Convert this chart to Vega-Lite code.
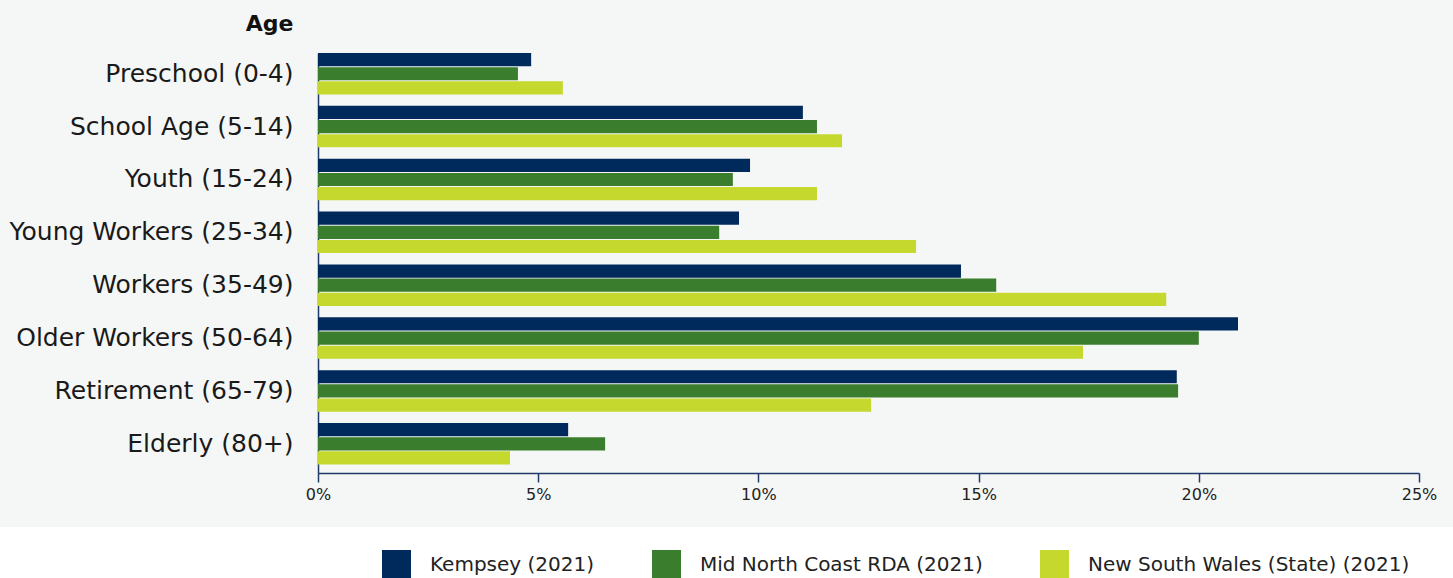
{
  "$schema": "https://vega.github.io/schema/vega-lite/v6.json",
  "background": "#f5f7f6",
  "padding": {"left": 0, "top": 12, "right": 0, "bottom": 0},
  "spacing": 25,
  "bounds": "full",
  "config": {"font": "DejaVu Sans", "view": {"stroke": null}},
  "resolve": {"scale": {"color": "independent"}, "legend": {"color": "independent"}},
  "datasets": {
    "age": [
      {"age": "Preschool (0-4)", "region": "Kempsey (2021)", "pct": 4.84},
      {"age": "Preschool (0-4)", "region": "Mid North Coast RDA (2021)", "pct": 4.54},
      {"age": "Preschool (0-4)", "region": "New South Wales (State) (2021)", "pct": 5.56},
      {"age": "School Age (5-14)", "region": "Kempsey (2021)", "pct": 11.01},
      {"age": "School Age (5-14)", "region": "Mid North Coast RDA (2021)", "pct": 11.33},
      {"age": "School Age (5-14)", "region": "New South Wales (State) (2021)", "pct": 11.9},
      {"age": "Youth (15-24)", "region": "Kempsey (2021)", "pct": 9.81},
      {"age": "Youth (15-24)", "region": "Mid North Coast RDA (2021)", "pct": 9.42},
      {"age": "Youth (15-24)", "region": "New South Wales (State) (2021)", "pct": 11.33},
      {"age": "Young Workers (25-34)", "region": "Kempsey (2021)", "pct": 9.56},
      {"age": "Young Workers (25-34)", "region": "Mid North Coast RDA (2021)", "pct": 9.11},
      {"age": "Young Workers (25-34)", "region": "New South Wales (State) (2021)", "pct": 13.58},
      {"age": "Workers (35-49)", "region": "Kempsey (2021)", "pct": 14.6},
      {"age": "Workers (35-49)", "region": "Mid North Coast RDA (2021)", "pct": 15.4},
      {"age": "Workers (35-49)", "region": "New South Wales (State) (2021)", "pct": 19.26},
      {"age": "Older Workers (50-64)", "region": "Kempsey (2021)", "pct": 20.89},
      {"age": "Older Workers (50-64)", "region": "Mid North Coast RDA (2021)", "pct": 20.0},
      {"age": "Older Workers (50-64)", "region": "New South Wales (State) (2021)", "pct": 17.37},
      {"age": "Retirement (65-79)", "region": "Kempsey (2021)", "pct": 19.5},
      {"age": "Retirement (65-79)", "region": "Mid North Coast RDA (2021)", "pct": 19.53},
      {"age": "Retirement (65-79)", "region": "New South Wales (State) (2021)", "pct": 12.56},
      {"age": "Elderly (80+)", "region": "Kempsey (2021)", "pct": 5.68},
      {"age": "Elderly (80+)", "region": "Mid North Coast RDA (2021)", "pct": 6.52},
      {"age": "Elderly (80+)", "region": "New South Wales (State) (2021)", "pct": 4.36}
    ]
  },
  "vconcat": [
    {
      "hconcat": [
        {
          "width": 318,
          "height": 420,
          "data": {"name": "age"},
          "transform": [{"filter": "false"}],
          "mark": {"type": "bar"},
          "encoding": {}
        },
        {
          "width": 1101,
          "height": 420,
          "data": {"name": "age"},
          "mark": {"type": "bar"},
          "encoding": {
            "y": {
              "field": "age",
              "type": "nominal",
              "sort": ["Preschool (0-4)", "School Age (5-14)", "Youth (15-24)", "Young Workers (25-34)", "Workers (35-49)", "Older Workers (50-64)", "Retirement (65-79)", "Elderly (80+)"],
              "scale": {"paddingInner": 0.215, "paddingOuter": 0.08, "align": 0},
              "axis": {
                "title": "Age",
                "titleAngle": 0,
                "titleAlign": "right",
                "titleBaseline": "alphabetic",
                "titleX": -25,
                "titleY": -23,
                "titleFontSize": 22,
                "titleFontWeight": "bold",
                "titleColor": "#111111",
                "labelFontSize": 25,
                "labelColor": "#1a1a1a",
                "labelPadding": 25,
                "labelLimit": 500,
                "ticks": false,
                "domainColor": "#1f3a68",
                "domainWidth": 1.5
              }
            },
            "x": {
              "field": "pct",
              "type": "quantitative",
              "scale": {"domain": [0, 25], "nice": false},
              "axis": {
                "title": null,
                "values": [0, 5, 10, 15, 20, 25],
                "labelExpr": "datum.value + '%'",
                "grid": false,
                "domainColor": "#1f3a68",
                "domainWidth": 1.5,
                "tickColor": "#1f3a68",
                "tickWidth": 1.5,
                "tickSize": 9,
                "labelFontSize": 16,
                "labelPadding": 4,
                "labelColor": "#222222",
                "labelFlush": false
              }
            },
            "yOffset": {
              "field": "region",
              "type": "nominal",
              "sort": ["Kempsey (2021)", "Mid North Coast RDA (2021)", "New South Wales (State) (2021)"],
              "scale": {"paddingInner": 0.07}
            },
            "color": {
              "field": "region",
              "type": "nominal",
              "scale": {
                "domain": ["Kempsey (2021)", "Mid North Coast RDA (2021)", "New South Wales (State) (2021)"],
                "range": ["#002a5c", "#3a7e2d", "#c5d82e"]
              },
              "legend": null
            }
          }
        }
      ],
      "spacing": 0,
      "bounds": "flush",
      "resolve": {"scale": {"color": "independent"}, "legend": {"color": "independent"}}
    },
    {
      "hconcat": [
        {
          "width": 318,
          "height": 51,
          "view": {"fill": "#ffffff", "stroke": null},
          "data": {"name": "age"},
          "transform": [{"filter": "false"}],
          "mark": {"type": "bar"},
          "encoding": {}
        },
        {
          "width": 1135,
          "height": 51,
          "view": {"fill": "#ffffff", "stroke": null},
          "data": {"name": "age"},
          "transform": [{"filter": "false"}],
          "mark": {"type": "bar"},
          "encoding": {
            "color": {
              "field": "region",
              "type": "nominal",
              "scale": {
                "domain": ["Kempsey (2021)", "Mid North Coast RDA (2021)", "New South Wales (State) (2021)"],
                "range": ["#002a5c", "#3a7e2d", "#c5d82e"]
              },
              "legend": {
                "orient": "none",
                "legendX": 64,
                "legendY": 23,
                "direction": "horizontal",
                "title": null,
                "symbolType": "square",
                "symbolSize": 841,
                "symbolStrokeWidth": 0,
                "labelFontSize": 20,
                "labelOffset": 19,
                "labelColor": "#222222",
                "labelLimit": 500,
                "columnPadding": 57,
                "padding": 0
              }
            }
          }
        }
      ],
      "spacing": 0,
      "bounds": "flush",
      "resolve": {"scale": {"color": "independent"}, "legend": {"color": "independent"}}
    }
  ]
}
